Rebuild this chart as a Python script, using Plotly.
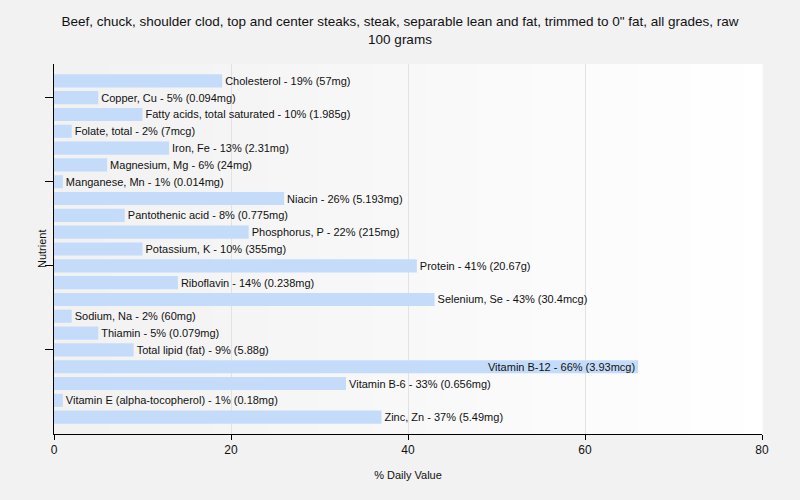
import plotly.graph_objects as go

nutrients = [
    "Cholesterol", "Copper, Cu", "Fatty acids, total saturated", "Folate, total",
    "Iron, Fe", "Magnesium, Mg", "Manganese, Mn", "Niacin", "Pantothenic acid",
    "Phosphorus, P", "Potassium, K", "Protein", "Riboflavin", "Selenium, Se",
    "Sodium, Na", "Thiamin", "Total lipid (fat)", "Vitamin B-12", "Vitamin B-6",
    "Vitamin E (alpha-tocopherol)", "Zinc, Zn",
]
daily_pct = [19, 5, 10, 2, 13, 6, 1, 26, 8, 22, 10, 41, 14, 43, 2, 5, 9, 66, 33, 1, 37]
amounts = [
    "57mg", "0.094mg", "1.985g", "7mcg", "2.31mg", "24mg", "0.014mg", "5.193mg",
    "0.775mg", "215mg", "355mg", "20.67g", "0.238mg", "30.4mcg", "60mg", "0.079mg",
    "5.88g", "3.93mcg", "0.656mg", "0.18mg", "5.49mg",
]
tick_rows = ["Copper, Cu", "Manganese, Mn", "Protein", "Total lipid (fat)"]

labels = [f"{n} - {p}% ({a})" for n, p, a in zip(nutrients, daily_pct, amounts)]
positions = ["inside" if p > 60 else "outside" for p in daily_pct]

FONT = "Liberation Sans, Arial, sans-serif"

fig = go.Figure(go.Bar(
    x=daily_pct,
    y=nutrients,
    orientation="h",
    width=0.78,
    marker=dict(color="#c4dcf9", line=dict(width=0)),
    text=labels,
    textposition=positions,
    insidetextanchor="end",
    textfont=dict(family=FONT, size=11, color="#111111"),
    insidetextfont=dict(family=FONT, size=11, color="#111111"),
    outsidetextfont=dict(family=FONT, size=11, color="#111111"),
    cliponaxis=False,
    constraintext="none",
    hovertemplate="%{text}<extra></extra>",
))

# soft left-to-right gradient in the plot area
shapes = []
n = 40
for i in range(n):
    c = int(242 + (255 - 242) * i / (n - 1))
    shapes.append(dict(
        type="rect", xref="paper", yref="paper",
        x0=i / n, x1=(i + 1) / n + 0.001, y0=0, y1=1,
        fillcolor=f"rgb({c},{c},{c})", line=dict(width=0), layer="below",
    ))

fig.update_layout(
    width=800, height=500,
    margin=dict(l=54, r=38, t=64, b=66),
    paper_bgcolor="#f2f2f2",
    plot_bgcolor="rgba(0,0,0,0)",
    font=dict(family=FONT, size=11, color="#111111"),
    title=dict(
        text="Beef, chuck, shoulder clod, top and center steaks, steak, separable lean and fat, trimmed to 0\" fat, all grades, raw<br>100 grams",
        x=0.5, xanchor="center", y=0.948, yanchor="top",
        font=dict(family=FONT, size=13.5, color="#111111"),
    ),
    shapes=shapes,
    showlegend=False,
    annotations=[dict(
        text="Nutrient", textangle=-90, xref="paper", yref="paper",
        x=0, y=0.5, xshift=-12, xanchor="center", yanchor="middle",
        showarrow=False, font=dict(family=FONT, size=11, color="#111111"),
    )],
)

fig.update_xaxes(
    range=[0, 80], tickvals=[0, 20, 40, 60, 80],
    showgrid=True, gridcolor="#e2e2e2", gridwidth=1, zeroline=False,
    showline=True, linecolor="black", linewidth=1,
    ticks="outside", ticklen=5, tickcolor="black",
    tickfont=dict(family=FONT, size=12, color="#111111"),
    title=dict(text="% Daily Value", standoff=14, font=dict(family=FONT, size=11, color="#111111")),
)
fig.update_yaxes(
    categoryorder="array", categoryarray=nutrients,
    range=[21, -1],
    showgrid=False, zeroline=False,
    showline=True, linecolor="black", linewidth=1,
    tickvals=tick_rows, ticktext=["" for _ in tick_rows],
    ticks="outside", ticklen=8, tickcolor="black",
)

fig.write_html(
    "out.html",
    config={"displayModeBar": False},
    post_script="document.body.style.margin='0';",
)
